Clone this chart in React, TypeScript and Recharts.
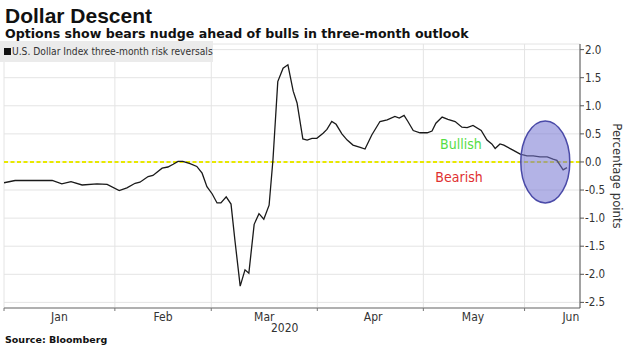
import {
  LineChart,
  Line,
  XAxis,
  YAxis,
  CartesianGrid,
  ReferenceLine,
  ReferenceDot,
} from 'recharts';

// weekday index since Jan 1 2020
const dayIndex = [
  0, 2.3, 10, 12, 13.9, 16.2, 19.3, 21.4, 23.9, 25.5, 27.2, 28.2, 29.9, 30.9, 32.8, 34, 35.1,
  36.1, 37.1, 38.6, 40, 41.1, 42.1, 43.2, 44.2, 45, 46.1, 47.1, 47.9, 49, 50, 50.8, 51.9, 52.9,
  53.9, 55, 55.8, 56.8, 57.9, 58.9, 60, 60.8, 62, 62.9, 63.9, 64.9, 66.2, 67, 68, 68.9, 70.1,
  71.2, 72.4, 73.9, 74.9, 76.3, 78, 79.5, 81.1, 82, 83, 83.8, 84.9, 86.3, 87.8, 88.8, 89.6,
  90.9, 92.1, 93.6, 95, 96.1, 97.3, 99, 100.2, 101.2, 101.9, 102.9, 103.7, 105.6, 107.1, 108.5,
  109.8, 111.2, 112.7, 113.9, 114.7, 116, 116.8,
];

// U.S. Dollar Index three-month risk reversals
const riskReversals = [
  -0.37, -0.33, -0.33, -0.39, -0.35, -0.41, -0.39, -0.4, -0.51, -0.46, -0.38, -0.36, -0.26,
  -0.24, -0.11, -0.09, -0.04, 0.01, 0.01, -0.03, -0.08, -0.2, -0.44, -0.57, -0.73, -0.73,
  -0.62, -0.75, -1.39, -2.21, -1.92, -1.98, -1.11, -0.92, -1.02, -0.77, 0.04, 1.43, 1.67,
  1.73, 1.26, 1.05, 0.41, 0.39, 0.42, 0.42, 0.51, 0.58, 0.72, 0.67, 0.5, 0.39, 0.3, 0.26,
  0.23, 0.48, 0.72, 0.75, 0.81, 0.78, 0.83, 0.72, 0.56, 0.52, 0.52, 0.55, 0.69, 0.8, 0.76,
  0.72, 0.62, 0.61, 0.65, 0.56, 0.39, 0.32, 0.24, 0.32, 0.3, 0.21, 0.14, 0.11, 0.11, 0.09,
  0.09, 0.05, 0.03, -0.14, -0.1,
];

// month starts (weekday index) and label positions
const monthStarts = [0, 23, 43, 65, 87, 108];
const monthLabelPos = [11.5, 33, 54, 76.6, 97.3, 117.6];
const monthNames = ['Jan', 'Feb', 'Mar', 'Apr', 'May', 'Jun'];
const yTicks = [-2.5, -2, -1.5, -1, -0.5, 0, 0.5, 1, 1.5, 2];

const data = dayIndex.map((i, k) => ({ i, v: riskReversals[k] }));

const narrow = '"Liberation Sans Narrow", "DejaVu Sans Condensed", "Roboto Condensed", sans-serif';

const Ellipse = (props: any) => (
  <ellipse
    cx={props.cx}
    cy={props.cy}
    rx={24.5}
    ry={41}
    fill="#7474d2"
    fillOpacity={0.55}
    stroke="#4a4aa8"
    strokeWidth={1.5}
  />
);

export default function App() {
  return (
    <div
      style={{
        position: 'absolute',
        left: 0,
        top: 0,
        width: 631,
        height: 352,
        background: '#fff',
        overflow: 'hidden',
      }}
    >
      <div
        style={{
          position: 'absolute',
          left: 5,
          top: 4,
          fontFamily: '"Liberation Sans", Arial, sans-serif',
          fontWeight: 700,
          fontSize: 21,
          color: '#111',
        }}
      >
        Dollar Descent
      </div>
      <div
        style={{
          position: 'absolute',
          left: 5,
          top: 26,
          fontFamily: '"DejaVu Sans", sans-serif',
          fontWeight: 700,
          fontSize: 12.6,
          color: '#111',
          whiteSpace: 'nowrap',
        }}
      >
        Options show bears nudge ahead of bulls in three-month outlook
      </div>
      <LineChart
        width={631}
        height={352}
        data={data}
        margin={{ top: 44, right: 0, bottom: 0, left: 4 }}
        style={{ position: 'absolute', left: 0, top: 0 }}
      >
        <CartesianGrid xAxisId="b" yAxisId="r" stroke="#e4e4e4" strokeWidth={1} />
        <XAxis
          xAxisId="b"
          dataKey="i"
          type="number"
          domain={[0, 119.5]}
          ticks={monthStarts}
          tickFormatter={() => ''}
          tickSize={3}
          height={4}
          axisLine={{ stroke: '#9a9a9a', strokeWidth: 1.5 }}
          tickLine={{ stroke: '#777' }}
          allowDataOverflow
        />
        <XAxis
          xAxisId="m"
          dataKey="i"
          type="number"
          domain={[0, 119.5]}
          ticks={monthLabelPos}
          tickFormatter={(v: number) => monthNames[monthLabelPos.indexOf(v)]}
          axisLine={false}
          tickLine={false}
          tickSize={0}
          tickMargin={0}
          height={40}
          interval={0}
          tick={{ fontFamily: narrow, fontSize: 12, fill: '#333' }}
          allowDataOverflow
        />
        <YAxis
          yAxisId="r"
          orientation="right"
          domain={[-2.6, 2.1]}
          ticks={yTicks}
          tickFormatter={(v: number) => v.toFixed(1)}
          width={51}
          tickSize={4}
          tickMargin={1}
          axisLine={{ stroke: '#555' }}
          tickLine={{ stroke: '#555' }}
          tick={{ fontFamily: narrow, fontSize: 11.5, fill: '#333', textAnchor: 'start' }}
          label={{
            value: 'Percentage points',
            angle: 90,
            position: 'insideRight',
            offset: 13,
            style: { fontFamily: narrow, fontSize: 13, fill: '#333', textAnchor: 'middle' },
          }}
          allowDataOverflow
        />
        <ReferenceLine
          xAxisId="b"
          yAxisId="r"
          y={0}
          stroke="#e8e800"
          strokeWidth={2}
          strokeDasharray="4 2.5"
        />
        <ReferenceDot xAxisId="b" yAxisId="r" x={112.3} y={0} shape={Ellipse} />
        <ReferenceDot
          xAxisId="b"
          yAxisId="r"
          x={94.8}
          y={0.32}
          r={0}
          label={{ value: 'Bullish', position: 'center', fill: '#55dd44', fontSize: 14, fontFamily: narrow }}
        />
        <ReferenceDot
          xAxisId="b"
          yAxisId="r"
          x={94.4}
          y={-0.26}
          r={0}
          label={{ value: 'Bearish', position: 'center', fill: '#e03030', fontSize: 14, fontFamily: narrow }}
        />
        <Line
          xAxisId="b"
          yAxisId="r"
          dataKey="v"
          type="linear"
          stroke="#1a1a1a"
          strokeWidth={1.3}
          dot={false}
          isAnimationActive={false}
        />
      </LineChart>
      <div
        style={{
          position: 'absolute',
          left: 0,
          top: 41,
          width: 213,
          height: 21,
          background: '#ebebeb',
          display: 'flex',
          alignItems: 'center',
          paddingLeft: 4,
          boxSizing: 'border-box',
          whiteSpace: 'nowrap',
          overflow: 'hidden',
          fontFamily: narrow,
          fontSize: 10.2,
          color: '#333',
        }}
      >
        <span
          style={{ display: 'inline-block', flexShrink: 0, width: 7, height: 7, background: '#111', marginRight: 1 }}
        />
        <span style={{ flexShrink: 0 }}>U.S. Dollar Index three-month risk reversals</span>
      </div>
      <div
        style={{
          position: 'absolute',
          left: 271,
          top: 321,
          fontFamily: narrow,
          fontSize: 12,
          color: '#333',
        }}
      >
        2020
      </div>
      <div
        style={{
          position: 'absolute',
          left: 5,
          top: 334,
          fontFamily: '"DejaVu Sans", sans-serif',
          fontWeight: 700,
          fontSize: 9.5,
          color: '#111',
        }}
      >
        Source: Bloomberg
      </div>
    </div>
  );
}
